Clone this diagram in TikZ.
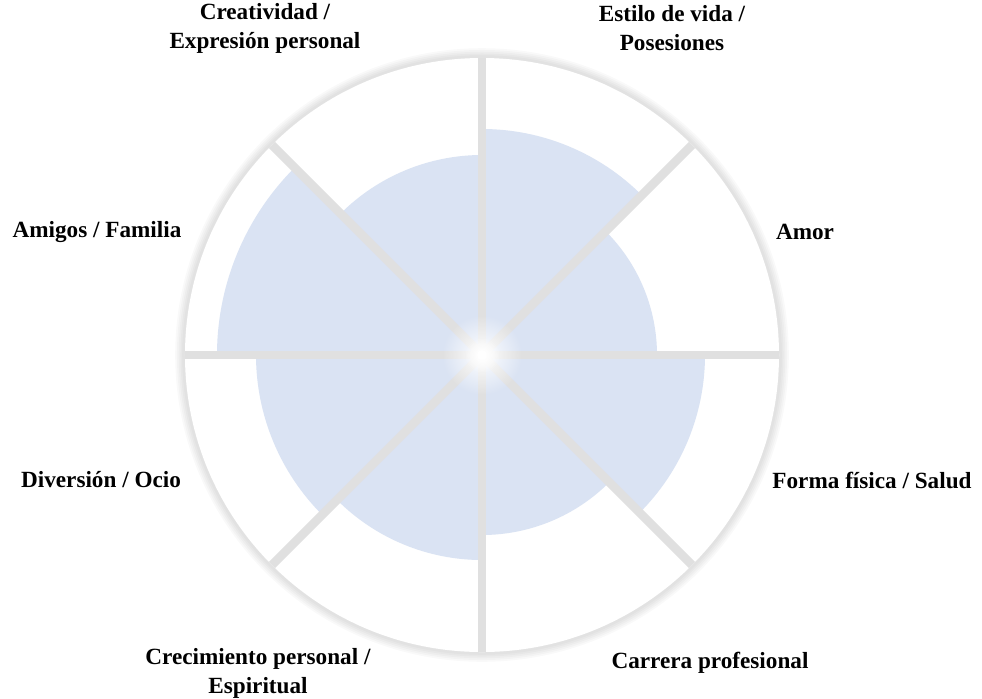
\documentclass[tikz,border=0pt]{standalone}
\usepackage{fontspec}
\setmainfont{Liberation Serif}
\usepackage{tikz}
\usetikzlibrary{fadings}
\definecolor{wheelblue}{RGB}{218,227,243}
\definecolor{spokegray}{RGB}{224,224,224}
\tikzfading[name=hubglow, inner color=transparent!0, outer color=transparent!100]

\begin{document}
\begin{tikzpicture}[x=0.02cm, y=0.02cm,
    area/.style={font=\fontsize{13.2}{16.6}\selectfont\bfseries, align=center, inner sep=0pt},
    spoke/.style={draw=spokegray, line width=5pt},
    score/.style={fill=wheelblue}]
    \useasboundingbox (-482,-343) rectangle (500,355);
    \coordinate (hub) at (0,0);

    % soft rim shadow and white disc
    \foreach \w in {10,8,6,4,2}
        \draw[black, opacity=0.025, line width=\w pt] (hub) circle (298);
    \fill[white] (hub) circle (297);

    % scores, one sector each
    \foreach \a/\r in {0/175, 45/226, 90/200, 135/265, 180/226, 225/205, 270/180, 315/223}
        \fill[score] (hub) -- (\a:\r) arc[start angle=\a, delta angle=45, radius=\r] -- cycle;

    % dividers
    \foreach \a in {0,45,...,315}
        \draw[spoke] (hub) -- (\a:297);

    % glow at the hub
    \fill[white, path fading=hubglow] (hub) circle (40);
    \fill[white, path fading=hubglow] (hub) circle (18);
    \fill[white] (hub) circle (5);

    \node[area] (crea) at (-217,327) {Creatividad /\\Expresión personal};
    \node[area] (esti) at (190,327) {Estilo de vida /\\Posesiones};
    \node[area] (amig) at (-385,123) {Amigos / Familia};
    \node[area] (amor) at (323,123) {Amor};
    \node[area] (dive) at (-381,-125) {Diversión / Ocio};
    \node[area] (form) at (390,-125) {Forma física / Salud};
    \node[area] (crec) at (-224,-318) {Crecimiento personal /\\Espiritual};
    \node[area] (carr) at (228,-308) {Carrera profesional};
\end{tikzpicture}
\end{document}
